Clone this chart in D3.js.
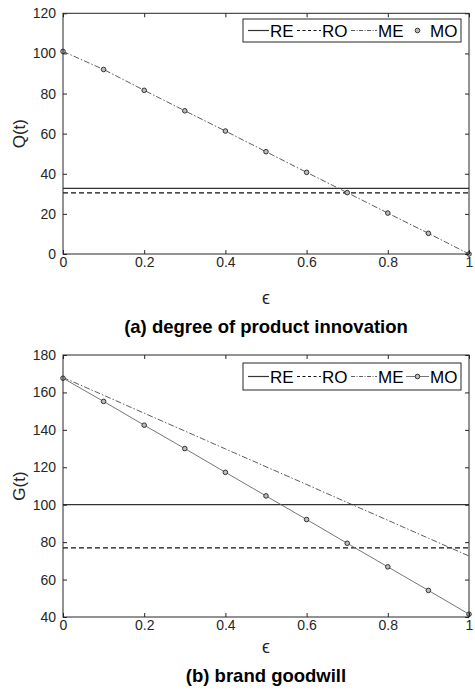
<!DOCTYPE html>
<html>
<head>
<meta charset="utf-8">
<script src="https://cdn.jsdelivr.net/npm/d3@7"></script>
<style>
  body { margin: 0; background: #fff; }
  svg { display: block; font-family: "Liberation Sans", Arial, sans-serif; }
</style>
</head>
<body>
<svg id="chart" width="475" height="690"></svg>
<script>
// epsilon sample points
const eps = [0, 0.1, 0.2, 0.3, 0.4, 0.5, 0.6, 0.7, 0.8, 0.9, 1];

// (a) degree of product innovation Q(t)
const qRE = 32.7;
const qRO = 30.5;
const qME = [101, 92, 81.6, 71.4, 61.3, 51, 40.7, 30.6, 20.4, 10.3, 0];
const qMO = [101, 92, 81.6, 71.4, 61.3, 51, 40.7, 30.6, 20.4, 10.3, 0];

// (b) brand goodwill G(t)
const gRE = 100;
const gRO = 76.9;
const gME = [168, 158.5, 148.9, 139.4, 129.8, 120.3, 110.8, 101.2, 91.7, 82.1, 72.6];
const gMO = [167.6, 155.2, 142.5, 130, 117.3, 104.7, 92.1, 79.4, 66.8, 54.2, 41.5];

const xTicks = [0, 0.2, 0.4, 0.6, 0.8, 1];
const qTicks = [0, 20, 40, 60, 80, 100, 120];
const gTicks = [40, 60, 80, 100, 120, 140, 160, 180];
const legendNames = ["RE", "RO", "ME", "MO"];

const svg = d3.select("#chart");
const axisColor = "#262626";
const fmt = d => d3.format("~g")(d);

/**
 * Draw one panel with its box, ticks, series and legend
 */
function drawPanel(opts) {
    const { top, bottom, left, right, yDomain, yTicks, yLabel, title,
            re, ro, me, mo, moLine, legendBox, xLabelY, titleY } = opts;

    const x = d3.scaleLinear().domain([0, 1]).range([left, right]);
    const y = d3.scaleLinear().domain(yDomain).range([bottom, top]);
    const g = svg.append("g");

    // series
    const line = d3.line().x((d, i) => x(eps[i])).y(d => y(d));

    g.append("line")
        .attr("x1", x(0)).attr("x2", x(1))
        .attr("y1", y(re)).attr("y2", y(re))
        .attr("stroke", "#333").attr("stroke-width", 1.2);

    g.append("line")
        .attr("x1", x(0)).attr("x2", x(1))
        .attr("y1", y(ro)).attr("y2", y(ro))
        .attr("stroke", "#111").attr("stroke-width", 1.2)
        .attr("stroke-dasharray", "5,3");

    g.append("path")
        .datum(me)
        .attr("d", line)
        .attr("fill", "none")
        .attr("stroke", "#333").attr("stroke-width", 0.8)
        .attr("stroke-dasharray", "6,2,1.5,2");

    if (moLine) {
        g.append("path")
            .datum(mo)
            .attr("d", line)
            .attr("fill", "none")
            .attr("stroke", "#666").attr("stroke-width", 0.9);
    }

    g.selectAll(".mo")
        .data(mo)
        .enter().append("circle")
        .attr("class", "mo")
        .attr("cx", (d, i) => x(eps[i]))
        .attr("cy", d => y(d))
        .attr("r", 2.3)
        .attr("fill", "#bbb")
        .attr("stroke", "#222")
        .attr("stroke-width", 0.9);

    // axes with inward ticks on all four sides
    const axes = [
        { a: d3.axisBottom(x).tickValues(xTicks).tickFormat(fmt).tickPadding(3), t: `translate(0,${bottom})` },
        { a: d3.axisTop(x).tickValues(xTicks).tickFormat(""), t: `translate(0,${top})` },
        { a: d3.axisLeft(y).tickValues(yTicks).tickFormat(fmt).tickPadding(7), t: `translate(${left},0)` },
        { a: d3.axisRight(y).tickValues(yTicks).tickFormat(""), t: `translate(${right},0)` }
    ];
    axes.forEach(ax => {
        const sel = g.append("g")
            .attr("transform", ax.t)
            .call(ax.a.tickSizeInner(-4).tickSizeOuter(0));
        sel.select(".domain").remove();
        sel.selectAll("line").attr("stroke", axisColor);
        sel.selectAll("text")
            .attr("fill", axisColor)
            .style("font-size", "14px")
            .style("font-family", "'Liberation Sans', Arial, sans-serif");
    });

    g.append("rect")
        .attr("x", left).attr("y", top)
        .attr("width", right - left).attr("height", bottom - top)
        .attr("fill", "none")
        .attr("stroke", axisColor).attr("stroke-width", 1);

    // labels
    g.append("text")
        .attr("transform", `translate(25,${(top + bottom) / 2}) rotate(-90)`)
        .attr("text-anchor", "middle")
        .attr("fill", axisColor)
        .style("font-size", "17px")
        .text(yLabel);

    g.append("text")
        .attr("x", (left + right) / 2).attr("y", xLabelY)
        .attr("text-anchor", "middle")
        .attr("fill", axisColor)
        .style("font-size", "18px")
        .text("\u03F5");

    g.append("text")
        .attr("x", (left + right) / 2).attr("y", titleY)
        .attr("text-anchor", "middle")
        .attr("fill", "#000")
        .style("font-size", "18.5px")
        .style("font-weight", "bold")
        .text(title);

    // legend
    const lg = g.append("g");
    lg.append("rect")
        .attr("x", legendBox.x).attr("y", legendBox.y)
        .attr("width", legendBox.w).attr("height", legendBox.h)
        .attr("fill", "#fff")
        .attr("stroke", axisColor).attr("stroke-width", 1);

    const cy = legendBox.y + legendBox.h / 2;
    const items = [
        { name: legendNames[0], x0: 248, x1: 269, tx: 270, dash: null, w: 1.2, c: "#333" },
        { name: legendNames[1], x0: 297, x1: 321, tx: 322, dash: "3,2.5", w: 1.2, c: "#111" },
        { name: legendNames[2], x0: 351, x1: 377, tx: 378, dash: "4,1.5,1,1.5", w: 0.8, c: "#333" },
        { name: legendNames[3], x0: 406, x1: 429, tx: 430, dash: null, w: 0.9, c: "#666", marker: true }
    ];
    items.forEach(it => {
        if (!it.marker || moLine) {
            lg.append("line")
                .attr("x1", it.x0).attr("x2", it.x1)
                .attr("y1", cy).attr("y2", cy)
                .attr("stroke", it.c).attr("stroke-width", it.w)
                .attr("stroke-dasharray", it.dash);
        }
        if (it.marker) {
            lg.append("circle")
                .attr("cx", (it.x0 + it.x1) / 2).attr("cy", cy)
                .attr("r", 2.3)
                .attr("fill", "#bbb").attr("stroke", "#222").attr("stroke-width", 0.9);
        }
        lg.append("text")
            .attr("x", it.tx).attr("y", cy + 6)
            .attr("fill", "#000")
            .style("font-size", "17px")
            .text(it.name);
    });
}

drawPanel({
    top: 13.3, bottom: 254, left: 63, right: 469,
    yDomain: [0, 120], yTicks: qTicks, yLabel: "Q(t)",
    title: "(a) degree of product innovation",
    re: qRE, ro: qRO, me: qME, mo: qMO, moLine: false,
    legendBox: { x: 243, y: 19, w: 218, h: 23 },
    xLabelY: 304, titleY: 333
});

drawPanel({
    top: 355, bottom: 617, left: 63, right: 469,
    yDomain: [40, 180], yTicks: gTicks, yLabel: "G(t)",
    title: "(b) brand goodwill",
    re: gRE, ro: gRO, me: gME, mo: gMO, moLine: true,
    legendBox: { x: 243, y: 363, w: 218, h: 27 },
    xLabelY: 653, titleY: 682
});
</script>
</body>
</html>
